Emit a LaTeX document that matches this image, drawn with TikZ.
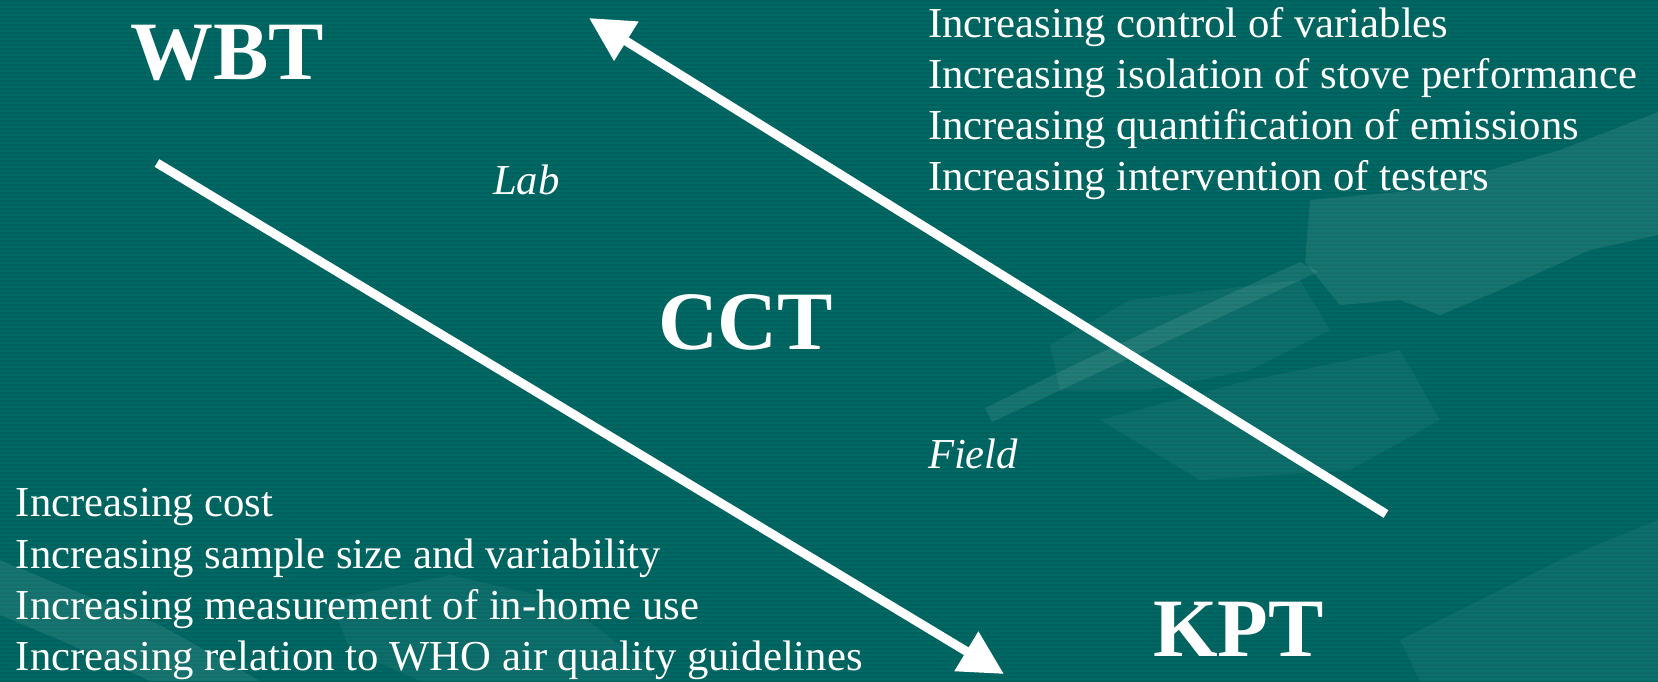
\documentclass[tikz,border=0pt]{standalone}
\usepackage{fontspec}
\setmainfont{Liberation Serif}
\usetikzlibrary{arrows.meta}
\definecolor{slidebg}{RGB}{0,104,100}
\definecolor{slidestripe}{RGB}{0,97,93}
\begin{document}
\begin{tikzpicture}[x=1pt,y=-1pt,
  every node/.style={inner sep=0pt, outer sep=0pt, text=white},
  title/.style={anchor=base west, font=\fontsize{83}{90}\selectfont\bfseries},
  item/.style={anchor=base west, font=\fontsize{42.7}{51}\selectfont},
  tag/.style={anchor=base west, font=\fontsize{42.7}{51}\selectfont\itshape},
  trend/.style={draw=white, line width=9pt, -{Triangle[length=44pt,width=44pt]}},
  glow/.style={fill=white, opacity=0.09},
  glowfaint/.style={fill=white, opacity=0.05}]

% background with fine horizontal stripes
\fill[slidebg] (0,0) rectangle (1658,681);
\useasboundingbox (0,0) rectangle (1658,681);
\foreach \yy in {0,4,...,680}
  \fill[slidestripe] (0,\yy) rectangle (1658,\yy+2);

% faint leaf shapes in the background
\fill[glow] (1310,200) -- (1420,190) -- (1560,150) -- (1658,112) -- (1658,235)
  -- (1590,250) -- (1500,290) -- (1440,315) -- (1400,300) -- (1340,305)
  -- (1305,262) -- cycle;
\fill[glow] (985,408) -- (1080,362) -- (1190,312) -- (1300,262) -- (1318,272)
  -- (1205,324) -- (1095,374) -- (992,422) -- cycle;
\fill[glowfaint] (1050,345) -- (1130,300) -- (1300,280) -- (1330,330)
  -- (1250,370) -- (1150,390) -- (1060,390) -- cycle;
\fill[glowfaint] (1100,420) -- (1250,380) -- (1400,350) -- (1440,420)
  -- (1350,470) -- (1200,480) -- cycle;
\fill[glow] (0,560) -- (60,585) -- (160,625) -- (260,681) -- (150,681)
  -- (60,640) -- (0,615) -- cycle;
\fill[glowfaint] (330,600) -- (450,575) -- (560,600) -- (640,660) -- (660,681)
  -- (420,681) -- (350,650) -- cycle;
\fill[glowfaint] (1400,640) -- (1560,560) -- (1658,520) -- (1658,681)
  -- (1420,681) -- cycle;

% method labels
\node[title] (wbt) at (130,79) {WBT};
\node[title] (cct) at (658,349) {CCT};
\node[title] (kpt) at (1153,656) {KPT};

\node[tag] (lab) at (493,194) {Lab};
\node[tag] (field) at (928,468) {Field};

% lab-side trends
\node[item] (up1) at (928,37)  {Increasing control of variables};
\node[item] (up2) at (928,88)  {Increasing isolation of stove performance};
\node[item] (up3) at (928,139) {Increasing quantification of emissions};
\node[item] (up4) at (928,190) {Increasing intervention of testers};

% field-side trends
\node[item] (dn1) at (16,516) {Increasing cost};
\node[item] (dn2) at (16,568) {Increasing sample size and variability};
\node[item] (dn3) at (16,619) {Increasing measurement of in-home use};
\node[item] (dn4) at (16,670) {Increasing relation to WHO air quality guidelines};

% the two trend arrows
\coordinate (fieldstart) at (157,163);
\coordinate (fieldtip) at (1004,674);
\coordinate (labstart) at (1386,514);
\coordinate (labtip) at (589,18);
\draw[trend] (fieldstart) -- (fieldtip);
\draw[trend] (labstart) -- (labtip);
\end{tikzpicture}
\end{document}
